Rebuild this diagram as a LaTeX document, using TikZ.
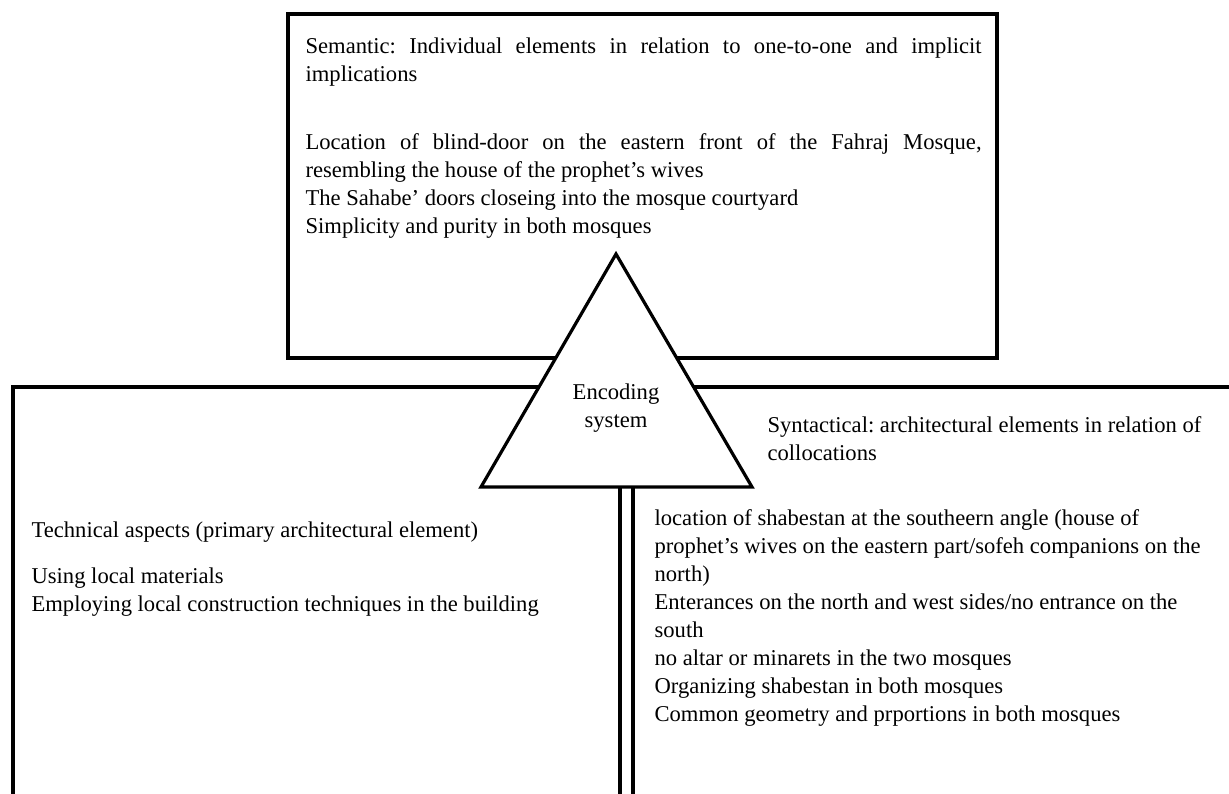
\documentclass[tikz,border=0pt]{standalone}
\usepackage{fontspec}
\setmainfont{Liberation Serif}
\newcommand\diagfont{\fontsize{11.3}{14}\selectfont\frenchspacing}
\begin{document}
\begin{tikzpicture}[x=0.5pt,y=-0.5pt,line width=1.6pt,
  txt/.style={anchor=north west,inner sep=0pt,align=left,font=\diagfont},
  frame/.style={draw=black,line width=1.7pt,inner sep=0pt}]
\clip (0,0) rectangle (1229,793);
% frames
\node[frame,minimum width=354.5pt,minimum height=172pt] (sembox) at (642.5,186) {};
\draw[line width=1.7pt] (13,805) -- (13,387) -- (1240,387);
% triangle and stem
\coordinate (apex) at (616,254);
\coordinate (baseL) at (481,487);
\coordinate (baseR) at (752,487);
\filldraw[fill=white] (apex) -- (baseL) -- (baseR) -- cycle;
\node[font=\diagfont,align=center,inner sep=0pt] (enc) at (616,408) {Encoding\\system};
\coordinate (stemA) at (620,487); \coordinate (stemAend) at (620,805);
\coordinate (stemB) at (633,487); \coordinate (stemBend) at (633,805);
\draw (stemA) -- (stemAend);
\draw (stemB) -- (stemBend);
% semantic
\node[txt,text width=338pt,align=justify] (semhead) at (304,36)
{Semantic: Individual elements in relation to one-to-one and implicit\linebreak implications};
\node[txt,text width=338pt,align=justify] (semlist) at (304,132)
{Location of blind-door on the eastern front of the Fahraj Mosque,\linebreak resembling the house of the prophet’s wives\par
The Sahabe’ doors closeing into the mosque courtyard\par
Simplicity and purity in both mosques};
% technical
\node[txt] (techhead) at (30,520) {Technical aspects (primary architectural element)};
\node[txt] (techlist) at (30,566) {Using local materials\\Employing local construction techniques in the building};
% syntactical
\node[txt] (synhead) at (766,415) {Syntactical: architectural elements in relation of\\collocations};
\node[txt] (synlist) at (653,508) {location of shabestan at the southeern angle (house of\\
prophet’s wives on the eastern part/sofeh companions on the\\
north)\\
Enterances on the north and west sides/no entrance on the\\
south\\
no altar or minarets in the two mosques\\
Organizing shabestan in both mosques\\
Common geometry and prportions in both mosques};
\end{tikzpicture}
\end{document}
